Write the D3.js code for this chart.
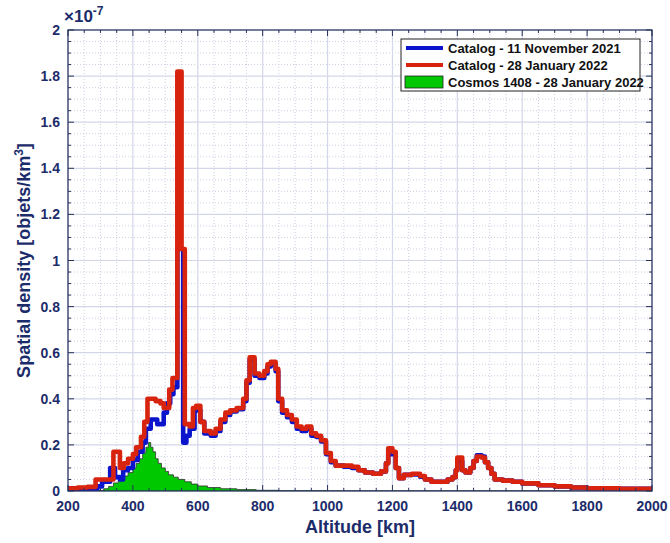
<!DOCTYPE html>
<html>
<head>
<meta charset="utf-8">
<script src="https://cdn.jsdelivr.net/npm/d3@7"></script>
<style>
  body { margin: 0; background: #fff; }
  text { font-family: "Liberation Sans", Arial, sans-serif; }
</style>
</head>
<body>
<svg id="chart" width="670" height="543"></svg>
<script>
// Data (spatial density in units of 1e-7 objets/km^3), step values start at each altitude
var xTicks = [200, 400, 600, 800, 1000, 1200, 1400, 1600, 1800, 2000];
var yTicks = [0, 0.2, 0.4, 0.6, 0.8, 1, 1.2, 1.4, 1.6, 1.8, 2];
var yTickLabels = ["0", "0.2", "0.4", "0.6", "0.8", "1", "1.2", "1.4", "1.6", "1.8", "2"];

var redAlt = [200, 230, 260, 285, 340, 360, 372, 385, 400, 410, 425, 435, 445, 470, 485, 495, 512, 522, 537, 550, 560, 575, 585, 595, 608, 620, 640, 655, 670, 685, 700, 720, 740, 750, 760, 775, 790, 805, 815, 825, 840, 848, 860, 875, 890, 905, 920, 935, 950, 965, 980, 995, 1010, 1025, 1050, 1075, 1095, 1115, 1140, 1165, 1180, 1187, 1200, 1210, 1220, 1235, 1260, 1285, 1300, 1320, 1370, 1385, 1395, 1400, 1415, 1425, 1440, 1450, 1460, 1475, 1485, 1495, 1505, 1515, 1540, 1570, 1600, 1650, 1700, 1750, 1800, 1900];
var redVal = [0.012, 0.015, 0.018, 0.05, 0.17, 0.10, 0.12, 0.14, 0.16, 0.19, 0.235, 0.30, 0.40, 0.39, 0.38, 0.36, 0.44, 0.49, 1.82, 1.05, 0.29, 0.28, 0.36, 0.37, 0.30, 0.26, 0.25, 0.27, 0.31, 0.34, 0.35, 0.36, 0.40, 0.48, 0.58, 0.51, 0.50, 0.52, 0.55, 0.56, 0.53, 0.40, 0.35, 0.33, 0.31, 0.28, 0.27, 0.28, 0.25, 0.24, 0.22, 0.165, 0.13, 0.11, 0.11, 0.105, 0.09, 0.08, 0.075, 0.085, 0.12, 0.185, 0.17, 0.10, 0.055, 0.07, 0.075, 0.065, 0.05, 0.04, 0.05, 0.06, 0.09, 0.145, 0.09, 0.08, 0.10, 0.13, 0.15, 0.145, 0.125, 0.10, 0.075, 0.05, 0.045, 0.04, 0.033, 0.025, 0.02, 0.015, 0.012, 0.01];

var blueAlt = [200, 260, 290, 305, 330, 345, 360, 370, 385, 400, 415, 430, 440, 455, 475, 495, 505, 515, 525, 537, 555, 565, 575, 590, 608, 620, 640, 655, 670, 685, 700, 720, 740, 750, 760, 775, 790, 805, 815, 825, 840, 848, 860, 875, 890, 905, 920, 935, 950, 965, 980, 995, 1010, 1025, 1050, 1075, 1095, 1115, 1140, 1165, 1180, 1187, 1200, 1210, 1220, 1235, 1260, 1285, 1300, 1320, 1370, 1385, 1395, 1400, 1415, 1425, 1440, 1450, 1460, 1475, 1485, 1495, 1505, 1515, 1540, 1570, 1600, 1650, 1700, 1750, 1800, 1900];
var blueVal = [0.005, 0.008, 0.02, 0.04, 0.10, 0.06, 0.05, 0.09, 0.10, 0.135, 0.17, 0.21, 0.27, 0.31, 0.29, 0.34, 0.38, 0.42, 0.45, 1.05, 0.21, 0.24, 0.27, 0.35, 0.30, 0.25, 0.24, 0.26, 0.30, 0.33, 0.345, 0.355, 0.39, 0.47, 0.57, 0.50, 0.49, 0.51, 0.54, 0.55, 0.52, 0.39, 0.34, 0.32, 0.30, 0.27, 0.26, 0.27, 0.24, 0.235, 0.215, 0.16, 0.125, 0.11, 0.105, 0.10, 0.09, 0.08, 0.075, 0.085, 0.12, 0.16, 0.165, 0.10, 0.055, 0.07, 0.072, 0.062, 0.05, 0.04, 0.05, 0.06, 0.09, 0.13, 0.09, 0.08, 0.10, 0.13, 0.155, 0.15, 0.125, 0.10, 0.075, 0.05, 0.045, 0.04, 0.033, 0.025, 0.02, 0.015, 0.012, 0.01];

var greenAlt = [290, 310, 325, 340, 355, 370, 385, 400, 410, 420, 430, 440, 448, 455, 462, 470, 478, 488, 500, 510, 525, 540, 560, 580, 600, 630, 670, 720, 780, 850, 1000];
var greenVal = [0.003, 0.01, 0.02, 0.035, 0.05, 0.065, 0.08, 0.10, 0.12, 0.14, 0.165, 0.19, 0.21, 0.19, 0.17, 0.14, 0.12, 0.10, 0.085, 0.07, 0.06, 0.05, 0.04, 0.03, 0.022, 0.015, 0.01, 0.006, 0.003, 0.001, 0];

var legendLabels = ["Catalog - 11 November 2021", "Catalog - 28 January 2022", "Cosmos 1408 - 28 January 2022"];

// Layout
var svg = d3.select("#chart"),
    margin = {left: 68, right: 18, top: 30, bottom: 52},
    W = 670, H = 543,
    x0 = margin.left, x1 = W - margin.right,
    y0 = H - margin.bottom, y1 = margin.top;

var navy = "#1c2c6a";
var axisColor = "#26325c";

var x = d3.scaleLinear().domain([200, 2000]).range([x0, x1]);
var y = d3.scaleLinear().domain([0, 2]).range([y0, y1]);

var minorX = d3.range(200, 2001, 50);
var minorY = d3.range(0, 2.001, 0.05);

// Grid
var grid = svg.append("g");
grid.selectAll(".mx").data(minorX.filter(function(d) { return d % 200 !== 0; })).enter()
  .append("line").attr("x1", function(d) { return x(d); }).attr("x2", function(d) { return x(d); })
  .attr("y1", y0).attr("y2", y1)
  .attr("stroke", "#ccd0e4").attr("stroke-width", 1).attr("stroke-dasharray", "1,2");
grid.selectAll(".my").data(minorY.filter(function(d) { return Math.abs(d * 5 - Math.round(d * 5)) > 1e-6; })).enter()
  .append("line").attr("y1", function(d) { return y(d); }).attr("y2", function(d) { return y(d); })
  .attr("x1", x0).attr("x2", x1)
  .attr("stroke", "#ccd0e4").attr("stroke-width", 1).attr("stroke-dasharray", "1,2");
grid.selectAll(".Mx").data(xTicks).enter()
  .append("line").attr("x1", function(d) { return x(d); }).attr("x2", function(d) { return x(d); })
  .attr("y1", y0).attr("y2", y1)
  .attr("stroke", "#d4d7ea").attr("stroke-width", 1.2);
grid.selectAll(".My").data(yTicks).enter()
  .append("line").attr("y1", function(d) { return y(d); }).attr("y2", function(d) { return y(d); })
  .attr("x1", x0).attr("x2", x1)
  .attr("stroke", "#d4d7ea").attr("stroke-width", 1.2);

// Series as step functions
function stepPoints(alt, val, end) {
  var pts = alt.map(function(a, i) { return [a, val[i]]; });
  pts.push([end, val[val.length - 1]]);
  return pts;
}
var stepLine = d3.line()
  .x(function(d) { return x(d[0]); })
  .y(function(d) { return y(d[1]); })
  .curve(d3.curveStepAfter);
var stepArea = d3.area()
  .x(function(d) { return x(d[0]); })
  .y0(y0)
  .y1(function(d) { return y(d[1]); })
  .curve(d3.curveStepAfter);

var clip = svg.append("clipPath").attr("id", "clip")
  .append("rect").attr("x", x0).attr("y", y1 - 5).attr("width", x1 - x0).attr("height", y0 - y1 + 5);
var plot = svg.append("g").attr("clip-path", "url(#clip)");

plot.append("path").datum(stepPoints(greenAlt, greenVal, 2000))
  .attr("d", stepArea).attr("fill", "#00c800").attr("stroke", "#333").attr("stroke-width", 0.8);
plot.append("path").datum(stepPoints(blueAlt, blueVal, 2000))
  .attr("d", stepLine).attr("fill", "none").attr("stroke", "#0a14cc").attr("stroke-width", 4.6)
  .attr("stroke-linejoin", "round").attr("stroke-linecap", "round");
plot.append("path").datum(stepPoints(redAlt, redVal, 2000))
  .attr("d", stepLine).attr("fill", "none").attr("stroke", "#d8230e").attr("stroke-width", 4.6)
  .attr("stroke-linejoin", "round").attr("stroke-linecap", "round");

// Axes box with inward ticks on all sides
var ax = svg.append("g").attr("stroke", axisColor);
ax.append("rect").attr("x", x0).attr("y", y1).attr("width", x1 - x0).attr("height", y0 - y1)
  .attr("fill", "none").attr("stroke-width", 1.2);
minorX.forEach(function(d) {
  var len = d % 200 === 0 ? 6 : 3;
  ax.append("line").attr("x1", x(d)).attr("x2", x(d)).attr("y1", y0).attr("y2", y0 - len);
  ax.append("line").attr("x1", x(d)).attr("x2", x(d)).attr("y1", y1).attr("y2", y1 + len);
});
minorY.forEach(function(d) {
  var len = Math.abs(d * 5 - Math.round(d * 5)) < 1e-6 ? 6 : 3;
  ax.append("line").attr("y1", y(d)).attr("y2", y(d)).attr("x1", x0).attr("x2", x0 + len);
  ax.append("line").attr("y1", y(d)).attr("y2", y(d)).attr("x1", x1).attr("x2", x1 - len);
});

// Tick labels
svg.append("g").selectAll("text").data(xTicks).enter().append("text")
  .attr("x", function(d) { return x(d); }).attr("y", y0 + 20)
  .attr("text-anchor", "middle").attr("font-size", 14).attr("font-weight", "bold")
  .attr("fill", navy).text(function(d) { return d; });
svg.append("g").selectAll("text").data(yTicks).enter().append("text")
  .attr("x", x0 - 8).attr("y", function(d) { return y(d) + 5; })
  .attr("text-anchor", "end").attr("font-size", 14).attr("font-weight", "bold")
  .attr("fill", navy).text(function(d, i) { return yTickLabels[i]; });

// Exponent
var ex = svg.append("text").attr("x", x0 - 4).attr("y", 22)
  .attr("font-size", 17).attr("font-weight", "bold").attr("fill", navy);
ex.append("tspan").text("\u00d710");
ex.append("tspan").attr("dy", -7).attr("font-size", 12).text("-7");

// Axis titles
svg.append("text").attr("x", (x0 + x1) / 2).attr("y", 533)
  .attr("text-anchor", "middle").attr("font-size", 18).attr("font-weight", "bold")
  .attr("fill", navy).text("Altitude [km]");
var yl = svg.append("text").attr("transform", "translate(30," + ((y0 + y1) / 2) + ") rotate(-90)")
  .attr("text-anchor", "middle").attr("font-size", 18).attr("font-weight", "bold").attr("fill", navy);
yl.append("tspan").text("Spatial density [objets/km");
yl.append("tspan").attr("dy", -7).attr("font-size", 12).text("3");
yl.append("tspan").attr("dy", 7).text("]");

// Legend
var lg = svg.append("g").attr("transform", "translate(401,39)");
lg.append("rect").attr("width", 239).attr("height", 52).attr("fill", "#fff")
  .attr("stroke", "#222").attr("stroke-width", 1);
var colors = ["#0a14cc", "#d8230e", "#00c800"];
legendLabels.forEach(function(t, i) {
  var cy = 9 + i * 17;
  if (i < 2) {
    lg.append("line").attr("x1", 5).attr("x2", 42).attr("y1", cy).attr("y2", cy)
      .attr("stroke", colors[i]).attr("stroke-width", 4);
  } else {
    lg.append("rect").attr("x", 4).attr("y", cy - 6).attr("width", 38).attr("height", 12)
      .attr("fill", colors[i]).attr("stroke", "#222").attr("stroke-width", 0.8);
  }
  lg.append("text").attr("x", 47).attr("y", cy + 5).attr("font-size", 13)
    .attr("font-weight", "bold").attr("fill", "#111").text(t);
});
</script>
</body>
</html>
